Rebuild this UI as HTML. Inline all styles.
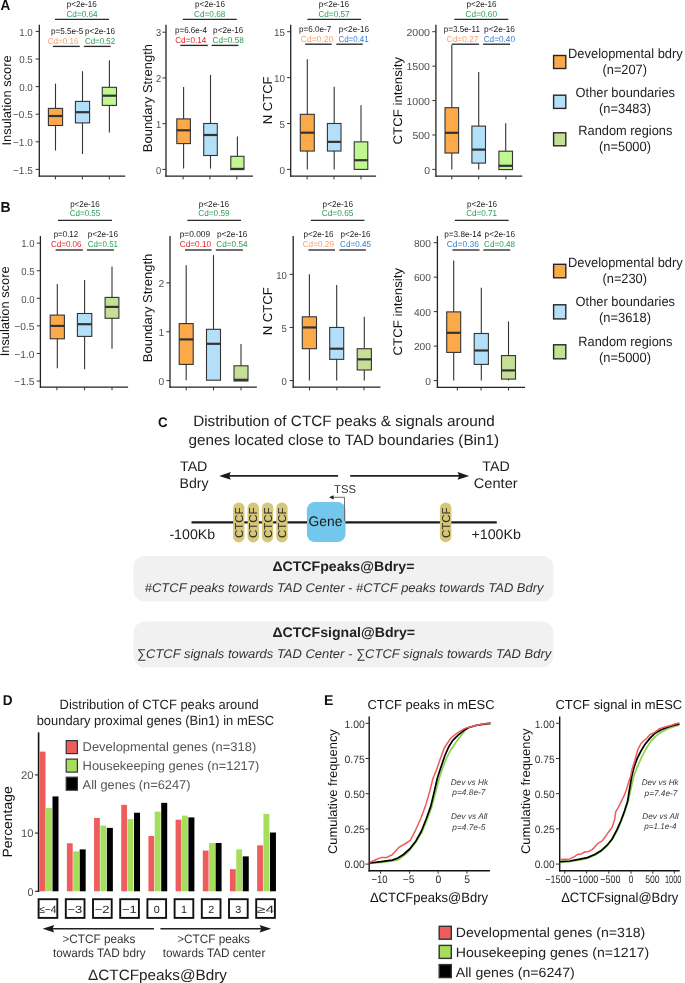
<!DOCTYPE html>
<html><head><meta charset="utf-8"><style>
html,body{margin:0;padding:0;background:#fff;width:685px;height:983px;overflow:hidden}
svg{display:block;will-change:transform}
text{font-family:"Liberation Sans", sans-serif;text-rendering:geometricPrecision}
</style></head><body>
<svg width="685" height="983" viewBox="0 0 685 983">

<text x="0.60" y="10.30" font-size="14.4" fill="#111" textLength="9.80" lengthAdjust="spacingAndGlyphs" font-weight="bold">A</text>
<text transform="translate(10.50,145.50) rotate(-90)" x="0" y="0" font-size="12.6" fill="#111" textLength="90.20" lengthAdjust="spacingAndGlyphs">Insulation score</text>
<line x1="39.30" y1="24.70" x2="39.30" y2="176.80" stroke="#222" stroke-width="1.3"/>
<line x1="38.70" y1="176.20" x2="125.20" y2="176.20" stroke="#222" stroke-width="1.3"/>
<line x1="35.70" y1="31.40" x2="39.30" y2="31.40" stroke="#333" stroke-width="1.0"/>
<text x="19.20" y="35.67" font-size="10.2" fill="#4D4D4D" textLength="13.60" lengthAdjust="spacingAndGlyphs">1.0</text>
<line x1="35.70" y1="59.00" x2="39.30" y2="59.00" stroke="#333" stroke-width="1.0"/>
<text x="19.20" y="63.27" font-size="10.2" fill="#4D4D4D" textLength="13.60" lengthAdjust="spacingAndGlyphs">0.5</text>
<line x1="35.70" y1="86.60" x2="39.30" y2="86.60" stroke="#333" stroke-width="1.0"/>
<text x="19.20" y="90.87" font-size="10.2" fill="#4D4D4D" textLength="13.60" lengthAdjust="spacingAndGlyphs">0.0</text>
<line x1="35.70" y1="114.20" x2="39.30" y2="114.20" stroke="#333" stroke-width="1.0"/>
<text x="13.00" y="118.47" font-size="10.2" fill="#4D4D4D" textLength="19.80" lengthAdjust="spacingAndGlyphs">−0.5</text>
<line x1="35.70" y1="141.80" x2="39.30" y2="141.80" stroke="#333" stroke-width="1.0"/>
<text x="13.00" y="146.07" font-size="10.2" fill="#4D4D4D" textLength="19.80" lengthAdjust="spacingAndGlyphs">−1.0</text>
<line x1="35.70" y1="169.40" x2="39.30" y2="169.40" stroke="#333" stroke-width="1.0"/>
<text x="13.00" y="173.67" font-size="10.2" fill="#4D4D4D" textLength="19.80" lengthAdjust="spacingAndGlyphs">−1.5</text>
<line x1="55.40" y1="176.20" x2="55.40" y2="179.40" stroke="#333" stroke-width="1.0"/>
<line x1="82.40" y1="176.20" x2="82.40" y2="179.40" stroke="#333" stroke-width="1.0"/>
<line x1="109.30" y1="176.20" x2="109.30" y2="179.40" stroke="#333" stroke-width="1.0"/>
<line x1="55.50" y1="83.60" x2="55.50" y2="108.40" stroke="#333" stroke-width="1.1"/>
<line x1="55.50" y1="125.50" x2="55.50" y2="150.60" stroke="#333" stroke-width="1.1"/>
<rect x="48.40" y="108.40" width="14.20" height="17.10" fill="#FCA94A" stroke="#333" stroke-width="1.1"/>
<line x1="48.40" y1="116.00" x2="62.60" y2="116.00" stroke="#333" stroke-width="2.2"/>
<line x1="82.50" y1="71.20" x2="82.50" y2="101.40" stroke="#333" stroke-width="1.1"/>
<line x1="82.50" y1="122.90" x2="82.50" y2="154.00" stroke="#333" stroke-width="1.1"/>
<rect x="75.40" y="101.40" width="14.20" height="21.50" fill="#B4DFF9" stroke="#333" stroke-width="1.1"/>
<line x1="75.40" y1="112.20" x2="89.60" y2="112.20" stroke="#333" stroke-width="2.2"/>
<line x1="109.40" y1="60.30" x2="109.40" y2="87.30" stroke="#333" stroke-width="1.1"/>
<line x1="109.40" y1="105.40" x2="109.40" y2="132.60" stroke="#333" stroke-width="1.1"/>
<rect x="102.30" y="87.30" width="14.20" height="18.10" fill="#C0F791" stroke="#333" stroke-width="1.1"/>
<line x1="102.30" y1="95.70" x2="116.50" y2="95.70" stroke="#333" stroke-width="2.2"/>
<text x="66.80" y="6.64" font-size="8.6" fill="#1a1a1a" textLength="30.00" lengthAdjust="spacingAndGlyphs">p&lt;2e-16</text>
<text x="66.40" y="16.54" font-size="8.6" fill="#2E9D58" textLength="31.30" lengthAdjust="spacingAndGlyphs">Cd=0.64</text>
<line x1="55.00" y1="19.40" x2="109.00" y2="19.40" stroke="#2a2a2a" stroke-width="1.35"/>
<text x="51.00" y="34.14" font-size="8.6" fill="#1a1a1a" textLength="32.30" lengthAdjust="spacingAndGlyphs">p=5.5e-5</text>
<text x="47.70" y="43.54" font-size="8.6" fill="#F7A072" textLength="30.70" lengthAdjust="spacingAndGlyphs">Cd=0.16</text>
<text x="85.00" y="34.14" font-size="8.6" fill="#1a1a1a" textLength="30.10" lengthAdjust="spacingAndGlyphs">p&lt;2e-16</text>
<text x="85.00" y="43.54" font-size="8.6" fill="#2E9D58" textLength="30.10" lengthAdjust="spacingAndGlyphs">Cd=0.52</text>
<line x1="52.90" y1="46.40" x2="79.80" y2="46.40" stroke="#2a2a2a" stroke-width="1.35"/>
<line x1="83.90" y1="46.40" x2="110.70" y2="46.40" stroke="#2a2a2a" stroke-width="1.35"/>
<text transform="translate(152.20,152.20) rotate(-90)" x="0" y="0" font-size="12.8" fill="#111" textLength="108.20" lengthAdjust="spacingAndGlyphs">Boundary Strength</text>
<line x1="166.00" y1="24.70" x2="166.00" y2="176.80" stroke="#222" stroke-width="1.3"/>
<line x1="165.40" y1="176.20" x2="253.00" y2="176.20" stroke="#222" stroke-width="1.3"/>
<line x1="162.40" y1="32.21" x2="166.00" y2="32.21" stroke="#333" stroke-width="1.0"/>
<text x="156.00" y="36.48" font-size="10.2" fill="#4D4D4D" textLength="5.20" lengthAdjust="spacingAndGlyphs">3</text>
<line x1="162.40" y1="77.94" x2="166.00" y2="77.94" stroke="#333" stroke-width="1.0"/>
<text x="156.00" y="82.21" font-size="10.2" fill="#4D4D4D" textLength="5.20" lengthAdjust="spacingAndGlyphs">2</text>
<line x1="162.40" y1="123.67" x2="166.00" y2="123.67" stroke="#333" stroke-width="1.0"/>
<text x="156.00" y="127.94" font-size="10.2" fill="#4D4D4D" textLength="5.20" lengthAdjust="spacingAndGlyphs">1</text>
<line x1="162.40" y1="169.40" x2="166.00" y2="169.40" stroke="#333" stroke-width="1.0"/>
<text x="156.00" y="173.67" font-size="10.2" fill="#4D4D4D" textLength="5.20" lengthAdjust="spacingAndGlyphs">0</text>
<line x1="183.10" y1="176.20" x2="183.10" y2="179.40" stroke="#333" stroke-width="1.0"/>
<line x1="209.90" y1="176.20" x2="209.90" y2="179.40" stroke="#333" stroke-width="1.0"/>
<line x1="236.80" y1="176.20" x2="236.80" y2="179.40" stroke="#333" stroke-width="1.0"/>
<line x1="183.60" y1="87.00" x2="183.60" y2="118.90" stroke="#333" stroke-width="1.1"/>
<line x1="183.60" y1="143.60" x2="183.60" y2="168.60" stroke="#333" stroke-width="1.1"/>
<rect x="176.80" y="118.90" width="13.60" height="24.70" fill="#FCA94A" stroke="#333" stroke-width="1.1"/>
<line x1="176.80" y1="130.30" x2="190.40" y2="130.30" stroke="#333" stroke-width="2.2"/>
<line x1="210.50" y1="75.00" x2="210.50" y2="123.50" stroke="#333" stroke-width="1.1"/>
<line x1="210.50" y1="155.50" x2="210.50" y2="168.60" stroke="#333" stroke-width="1.1"/>
<rect x="203.70" y="123.50" width="13.60" height="32.00" fill="#B4DFF9" stroke="#333" stroke-width="1.1"/>
<line x1="203.70" y1="135.00" x2="217.30" y2="135.00" stroke="#333" stroke-width="2.2"/>
<line x1="237.40" y1="136.50" x2="237.40" y2="156.30" stroke="#333" stroke-width="1.1"/>
<line x1="237.40" y1="169.60" x2="237.40" y2="169.60" stroke="#333" stroke-width="1.1"/>
<rect x="230.80" y="156.30" width="13.20" height="13.30" fill="#C0F791" stroke="#333" stroke-width="1.1"/>
<line x1="230.80" y1="168.90" x2="244.00" y2="168.90" stroke="#333" stroke-width="2.2"/>
<text x="194.90" y="6.64" font-size="8.6" fill="#1a1a1a" textLength="30.00" lengthAdjust="spacingAndGlyphs">p&lt;2e-16</text>
<text x="194.10" y="16.54" font-size="8.6" fill="#2E9D58" textLength="31.20" lengthAdjust="spacingAndGlyphs">Cd=0.68</text>
<line x1="182.80" y1="19.40" x2="236.80" y2="19.40" stroke="#2a2a2a" stroke-width="1.35"/>
<text x="175.00" y="33.24" font-size="8.6" fill="#1a1a1a" textLength="31.90" lengthAdjust="spacingAndGlyphs">p=6.6e-4</text>
<text x="175.20" y="43.04" font-size="8.6" fill="#E8262B" textLength="31.10" lengthAdjust="spacingAndGlyphs">Cd=0.14</text>
<text x="213.10" y="33.24" font-size="8.6" fill="#1a1a1a" textLength="30.20" lengthAdjust="spacingAndGlyphs">p&lt;2e-16</text>
<text x="212.50" y="43.04" font-size="8.6" fill="#2E9D58" textLength="31.40" lengthAdjust="spacingAndGlyphs">Cd=0.58</text>
<line x1="180.30" y1="45.40" x2="207.80" y2="45.40" stroke="#2a2a2a" stroke-width="1.35"/>
<line x1="211.60" y1="45.40" x2="238.50" y2="45.40" stroke="#2a2a2a" stroke-width="1.35"/>
<text transform="translate(271.80,124.30) rotate(-90)" x="0" y="0" font-size="12.9" fill="#111" textLength="47.90" lengthAdjust="spacingAndGlyphs">N CTCF</text>
<line x1="290.70" y1="24.70" x2="290.70" y2="176.80" stroke="#222" stroke-width="1.3"/>
<line x1="290.10" y1="176.20" x2="376.10" y2="176.20" stroke="#222" stroke-width="1.3"/>
<line x1="287.10" y1="31.70" x2="290.70" y2="31.70" stroke="#333" stroke-width="1.0"/>
<text x="274.00" y="35.97" font-size="10.2" fill="#4D4D4D" textLength="11.00" lengthAdjust="spacingAndGlyphs">15</text>
<line x1="287.10" y1="77.60" x2="290.70" y2="77.60" stroke="#333" stroke-width="1.0"/>
<text x="274.00" y="81.87" font-size="10.2" fill="#4D4D4D" textLength="11.00" lengthAdjust="spacingAndGlyphs">10</text>
<line x1="287.10" y1="123.50" x2="290.70" y2="123.50" stroke="#333" stroke-width="1.0"/>
<text x="279.50" y="127.77" font-size="10.2" fill="#4D4D4D" textLength="5.50" lengthAdjust="spacingAndGlyphs">5</text>
<line x1="287.10" y1="169.40" x2="290.70" y2="169.40" stroke="#333" stroke-width="1.0"/>
<text x="279.50" y="173.67" font-size="10.2" fill="#4D4D4D" textLength="5.50" lengthAdjust="spacingAndGlyphs">0</text>
<line x1="307.10" y1="176.20" x2="307.10" y2="179.40" stroke="#333" stroke-width="1.0"/>
<line x1="334.00" y1="176.20" x2="334.00" y2="179.40" stroke="#333" stroke-width="1.0"/>
<line x1="361.00" y1="176.20" x2="361.00" y2="179.40" stroke="#333" stroke-width="1.0"/>
<line x1="307.30" y1="59.24" x2="307.30" y2="114.32" stroke="#333" stroke-width="1.1"/>
<line x1="307.30" y1="151.04" x2="307.30" y2="169.40" stroke="#333" stroke-width="1.1"/>
<rect x="300.30" y="114.32" width="14.00" height="36.72" fill="#FCA94A" stroke="#333" stroke-width="1.1"/>
<line x1="300.30" y1="132.68" x2="314.30" y2="132.68" stroke="#333" stroke-width="2.2"/>
<line x1="334.20" y1="86.78" x2="334.20" y2="123.50" stroke="#333" stroke-width="1.1"/>
<line x1="334.20" y1="151.04" x2="334.20" y2="169.40" stroke="#333" stroke-width="1.1"/>
<rect x="327.40" y="123.50" width="13.60" height="27.54" fill="#B4DFF9" stroke="#333" stroke-width="1.1"/>
<line x1="327.40" y1="141.86" x2="341.00" y2="141.86" stroke="#333" stroke-width="2.2"/>
<line x1="361.00" y1="105.14" x2="361.00" y2="141.86" stroke="#333" stroke-width="1.1"/>
<line x1="361.00" y1="169.40" x2="361.00" y2="169.40" stroke="#333" stroke-width="1.1"/>
<rect x="354.20" y="141.86" width="13.60" height="27.54" fill="#C0F791" stroke="#333" stroke-width="1.1"/>
<line x1="354.20" y1="160.22" x2="367.80" y2="160.22" stroke="#333" stroke-width="2.2"/>
<text x="318.80" y="6.64" font-size="8.6" fill="#1a1a1a" textLength="30.40" lengthAdjust="spacingAndGlyphs">p&lt;2e-16</text>
<text x="318.40" y="16.54" font-size="8.6" fill="#2E9D58" textLength="31.20" lengthAdjust="spacingAndGlyphs">Cd=0.57</text>
<line x1="307.40" y1="19.40" x2="361.00" y2="19.40" stroke="#2a2a2a" stroke-width="1.35"/>
<text x="298.90" y="31.64" font-size="8.6" fill="#1a1a1a" textLength="32.30" lengthAdjust="spacingAndGlyphs">p=6.0e-7</text>
<text x="300.80" y="41.74" font-size="8.6" fill="#F7A072" textLength="32.30" lengthAdjust="spacingAndGlyphs">Cd=0.20</text>
<text x="338.70" y="31.64" font-size="8.6" fill="#1a1a1a" textLength="30.40" lengthAdjust="spacingAndGlyphs">p&lt;2e-16</text>
<text x="338.40" y="41.74" font-size="8.6" fill="#3B7DD2" textLength="30.30" lengthAdjust="spacingAndGlyphs">Cd=0.41</text>
<line x1="305.20" y1="44.20" x2="331.70" y2="44.20" stroke="#2a2a2a" stroke-width="1.35"/>
<line x1="336.30" y1="44.20" x2="362.80" y2="44.20" stroke="#2a2a2a" stroke-width="1.35"/>
<text transform="translate(401.50,144.50) rotate(-90)" x="0" y="0" font-size="12.5" fill="#111" textLength="87.50" lengthAdjust="spacingAndGlyphs">CTCF intensity</text>
<line x1="435.90" y1="24.70" x2="435.90" y2="176.80" stroke="#222" stroke-width="1.3"/>
<line x1="435.30" y1="176.20" x2="522.30" y2="176.20" stroke="#222" stroke-width="1.3"/>
<line x1="432.30" y1="31.70" x2="435.90" y2="31.70" stroke="#333" stroke-width="1.0"/>
<text x="406.50" y="35.97" font-size="10.2" fill="#4D4D4D" textLength="23.50" lengthAdjust="spacingAndGlyphs">2000</text>
<line x1="432.30" y1="66.13" x2="435.90" y2="66.13" stroke="#333" stroke-width="1.0"/>
<text x="406.50" y="70.40" font-size="10.2" fill="#4D4D4D" textLength="23.50" lengthAdjust="spacingAndGlyphs">1500</text>
<line x1="432.30" y1="100.55" x2="435.90" y2="100.55" stroke="#333" stroke-width="1.0"/>
<text x="406.50" y="104.82" font-size="10.2" fill="#4D4D4D" textLength="23.50" lengthAdjust="spacingAndGlyphs">1000</text>
<line x1="432.30" y1="134.98" x2="435.90" y2="134.98" stroke="#333" stroke-width="1.0"/>
<text x="412.40" y="139.25" font-size="10.2" fill="#4D4D4D" textLength="17.60" lengthAdjust="spacingAndGlyphs">500</text>
<line x1="432.30" y1="169.40" x2="435.90" y2="169.40" stroke="#333" stroke-width="1.0"/>
<text x="424.20" y="173.67" font-size="10.2" fill="#4D4D4D" textLength="5.80" lengthAdjust="spacingAndGlyphs">0</text>
<line x1="451.80" y1="176.20" x2="451.80" y2="179.40" stroke="#333" stroke-width="1.0"/>
<line x1="478.70" y1="176.20" x2="478.70" y2="179.40" stroke="#333" stroke-width="1.0"/>
<line x1="505.90" y1="176.20" x2="505.90" y2="179.40" stroke="#333" stroke-width="1.0"/>
<line x1="451.80" y1="45.00" x2="451.80" y2="107.70" stroke="#333" stroke-width="1.1"/>
<line x1="451.80" y1="153.00" x2="451.80" y2="169.40" stroke="#333" stroke-width="1.1"/>
<rect x="445.00" y="107.70" width="13.60" height="45.30" fill="#FCA94A" stroke="#333" stroke-width="1.1"/>
<line x1="445.00" y1="132.80" x2="458.60" y2="132.80" stroke="#333" stroke-width="2.2"/>
<line x1="478.70" y1="72.10" x2="478.70" y2="126.10" stroke="#333" stroke-width="1.1"/>
<line x1="478.70" y1="163.10" x2="478.70" y2="169.40" stroke="#333" stroke-width="1.1"/>
<rect x="471.90" y="126.10" width="13.60" height="37.00" fill="#B4DFF9" stroke="#333" stroke-width="1.1"/>
<line x1="471.90" y1="149.60" x2="485.50" y2="149.60" stroke="#333" stroke-width="2.2"/>
<line x1="505.70" y1="123.30" x2="505.70" y2="151.20" stroke="#333" stroke-width="1.1"/>
<line x1="505.70" y1="169.60" x2="505.70" y2="169.60" stroke="#333" stroke-width="1.1"/>
<rect x="498.90" y="151.20" width="13.60" height="18.40" fill="#C0F791" stroke="#333" stroke-width="1.1"/>
<line x1="498.90" y1="165.80" x2="512.50" y2="165.80" stroke="#333" stroke-width="2.2"/>
<text x="466.60" y="6.64" font-size="8.6" fill="#1a1a1a" textLength="30.00" lengthAdjust="spacingAndGlyphs">p&lt;2e-16</text>
<text x="465.60" y="16.54" font-size="8.6" fill="#2E9D58" textLength="31.40" lengthAdjust="spacingAndGlyphs">Cd=0.60</text>
<line x1="454.30" y1="19.40" x2="508.30" y2="19.40" stroke="#2a2a2a" stroke-width="1.35"/>
<text x="443.80" y="31.64" font-size="8.6" fill="#1a1a1a" textLength="36.10" lengthAdjust="spacingAndGlyphs">p=3.5e-11</text>
<text x="446.70" y="41.74" font-size="8.6" fill="#F7A072" textLength="31.70" lengthAdjust="spacingAndGlyphs">Cd=0.27</text>
<text x="484.00" y="31.64" font-size="8.6" fill="#1a1a1a" textLength="31.00" lengthAdjust="spacingAndGlyphs">p&lt;2e-16</text>
<text x="483.70" y="41.74" font-size="8.6" fill="#3B7DD2" textLength="31.30" lengthAdjust="spacingAndGlyphs">Cd=0.40</text>
<line x1="451.80" y1="44.20" x2="478.90" y2="44.20" stroke="#2a2a2a" stroke-width="1.35"/>
<line x1="483.10" y1="44.20" x2="509.90" y2="44.20" stroke="#2a2a2a" stroke-width="1.35"/>
<rect x="553.60" y="55.50" width="12.20" height="13.00" fill="#FCA94A" stroke="#262626" stroke-width="1.4"/>
<text x="568.00" y="57.74" font-size="13.4" fill="#1e1e1e" textLength="114.80" lengthAdjust="spacingAndGlyphs">Developmental bdry</text>
<text x="602.50" y="73.94" font-size="13.4" fill="#1e1e1e" textLength="44.50" lengthAdjust="spacingAndGlyphs">(n=207)</text>
<rect x="553.60" y="95.20" width="12.20" height="13.20" fill="#B4DFF9" stroke="#262626" stroke-width="1.4"/>
<text x="575.60" y="96.84" font-size="13.4" fill="#1e1e1e" textLength="99.40" lengthAdjust="spacingAndGlyphs">Other boundaries</text>
<text x="599.00" y="112.84" font-size="13.4" fill="#1e1e1e" textLength="52.00" lengthAdjust="spacingAndGlyphs">(n=3483)</text>
<rect x="553.60" y="132.80" width="12.20" height="13.00" fill="#C6DF97" stroke="#262626" stroke-width="1.4"/>
<text x="578.30" y="135.24" font-size="13.4" fill="#1e1e1e" textLength="94.00" lengthAdjust="spacingAndGlyphs">Random regions</text>
<text x="599.00" y="151.44" font-size="13.4" fill="#1e1e1e" textLength="52.00" lengthAdjust="spacingAndGlyphs">(n=5000)</text>
<text x="0.40" y="211.50" font-size="14.4" fill="#111" textLength="10.10" lengthAdjust="spacingAndGlyphs" font-weight="bold">B</text>
<text transform="translate(9.00,356.30) rotate(-90)" x="0" y="0" font-size="12.6" fill="#111" textLength="89.90" lengthAdjust="spacingAndGlyphs">Insulation score</text>
<line x1="40.40" y1="236.10" x2="40.40" y2="387.70" stroke="#222" stroke-width="1.3"/>
<line x1="39.80" y1="387.10" x2="128.10" y2="387.10" stroke="#222" stroke-width="1.3"/>
<line x1="36.80" y1="243.14" x2="40.40" y2="243.14" stroke="#333" stroke-width="1.0"/>
<text x="21.20" y="247.41" font-size="10.2" fill="#4D4D4D" textLength="13.30" lengthAdjust="spacingAndGlyphs">1.0</text>
<line x1="36.80" y1="270.72" x2="40.40" y2="270.72" stroke="#333" stroke-width="1.0"/>
<text x="21.20" y="274.99" font-size="10.2" fill="#4D4D4D" textLength="13.30" lengthAdjust="spacingAndGlyphs">0.5</text>
<line x1="36.80" y1="298.30" x2="40.40" y2="298.30" stroke="#333" stroke-width="1.0"/>
<text x="21.20" y="302.57" font-size="10.2" fill="#4D4D4D" textLength="13.30" lengthAdjust="spacingAndGlyphs">0.0</text>
<line x1="36.80" y1="325.88" x2="40.40" y2="325.88" stroke="#333" stroke-width="1.0"/>
<text x="14.30" y="330.15" font-size="10.2" fill="#4D4D4D" textLength="20.20" lengthAdjust="spacingAndGlyphs">−0.5</text>
<line x1="36.80" y1="353.46" x2="40.40" y2="353.46" stroke="#333" stroke-width="1.0"/>
<text x="14.30" y="357.73" font-size="10.2" fill="#4D4D4D" textLength="20.20" lengthAdjust="spacingAndGlyphs">−1.0</text>
<line x1="36.80" y1="381.04" x2="40.40" y2="381.04" stroke="#333" stroke-width="1.0"/>
<text x="14.30" y="385.31" font-size="10.2" fill="#4D4D4D" textLength="20.20" lengthAdjust="spacingAndGlyphs">−1.5</text>
<line x1="56.90" y1="387.10" x2="56.90" y2="390.30" stroke="#333" stroke-width="1.0"/>
<line x1="84.60" y1="387.10" x2="84.60" y2="390.30" stroke="#333" stroke-width="1.0"/>
<line x1="112.00" y1="387.10" x2="112.00" y2="390.30" stroke="#333" stroke-width="1.0"/>
<line x1="57.30" y1="284.00" x2="57.30" y2="315.10" stroke="#333" stroke-width="1.1"/>
<line x1="57.30" y1="338.80" x2="57.30" y2="368.20" stroke="#333" stroke-width="1.1"/>
<rect x="50.20" y="315.10" width="14.20" height="23.70" fill="#FCA94A" stroke="#333" stroke-width="1.1"/>
<line x1="50.20" y1="325.90" x2="64.40" y2="325.90" stroke="#333" stroke-width="2.2"/>
<line x1="84.60" y1="280.10" x2="84.60" y2="313.50" stroke="#333" stroke-width="1.1"/>
<line x1="84.60" y1="336.40" x2="84.60" y2="369.20" stroke="#333" stroke-width="1.1"/>
<rect x="77.40" y="313.50" width="14.40" height="22.90" fill="#B4DFF9" stroke="#333" stroke-width="1.1"/>
<line x1="77.40" y1="324.20" x2="91.80" y2="324.20" stroke="#333" stroke-width="2.2"/>
<line x1="112.00" y1="266.50" x2="112.00" y2="297.40" stroke="#333" stroke-width="1.1"/>
<line x1="112.00" y1="318.30" x2="112.00" y2="348.70" stroke="#333" stroke-width="1.1"/>
<rect x="105.10" y="297.40" width="13.80" height="20.90" fill="#C6DF97" stroke="#333" stroke-width="1.1"/>
<line x1="105.10" y1="306.90" x2="118.90" y2="306.90" stroke="#333" stroke-width="2.2"/>
<text x="70.20" y="206.54" font-size="8.6" fill="#1a1a1a" textLength="29.40" lengthAdjust="spacingAndGlyphs">p&lt;2e-16</text>
<text x="69.80" y="216.14" font-size="8.6" fill="#2E9D58" textLength="30.40" lengthAdjust="spacingAndGlyphs">Cd=0.55</text>
<line x1="57.90" y1="220.40" x2="112.00" y2="220.40" stroke="#2a2a2a" stroke-width="1.35"/>
<text x="53.70" y="237.44" font-size="8.6" fill="#1a1a1a" textLength="24.50" lengthAdjust="spacingAndGlyphs">p=0.12</text>
<text x="50.90" y="247.44" font-size="8.6" fill="#E8262B" textLength="30.70" lengthAdjust="spacingAndGlyphs">Cd=0.06</text>
<text x="87.70" y="237.44" font-size="8.6" fill="#1a1a1a" textLength="30.30" lengthAdjust="spacingAndGlyphs">p&lt;2e-16</text>
<text x="87.70" y="247.44" font-size="8.6" fill="#2E9D58" textLength="30.30" lengthAdjust="spacingAndGlyphs">Cd=0.51</text>
<line x1="55.60" y1="250.00" x2="82.90" y2="250.00" stroke="#2a2a2a" stroke-width="1.35"/>
<line x1="86.90" y1="250.00" x2="113.90" y2="250.00" stroke="#2a2a2a" stroke-width="1.35"/>
<text transform="translate(152.20,362.20) rotate(-90)" x="0" y="0" font-size="12.8" fill="#111" textLength="108.50" lengthAdjust="spacingAndGlyphs">Boundary Strength</text>
<line x1="170.00" y1="236.10" x2="170.00" y2="387.80" stroke="#222" stroke-width="1.3"/>
<line x1="169.40" y1="387.20" x2="256.80" y2="387.20" stroke="#222" stroke-width="1.3"/>
<line x1="166.40" y1="282.90" x2="170.00" y2="282.90" stroke="#333" stroke-width="1.0"/>
<text x="158.40" y="287.17" font-size="10.2" fill="#4D4D4D" textLength="5.70" lengthAdjust="spacingAndGlyphs">2</text>
<line x1="166.40" y1="331.75" x2="170.00" y2="331.75" stroke="#333" stroke-width="1.0"/>
<text x="158.40" y="336.02" font-size="10.2" fill="#4D4D4D" textLength="5.70" lengthAdjust="spacingAndGlyphs">1</text>
<line x1="166.40" y1="380.60" x2="170.00" y2="380.60" stroke="#333" stroke-width="1.0"/>
<text x="158.40" y="384.87" font-size="10.2" fill="#4D4D4D" textLength="5.70" lengthAdjust="spacingAndGlyphs">0</text>
<line x1="186.20" y1="387.20" x2="186.20" y2="390.40" stroke="#333" stroke-width="1.0"/>
<line x1="213.50" y1="387.20" x2="213.50" y2="390.40" stroke="#333" stroke-width="1.0"/>
<line x1="241.00" y1="387.20" x2="241.00" y2="390.40" stroke="#333" stroke-width="1.0"/>
<line x1="186.20" y1="265.30" x2="186.20" y2="323.60" stroke="#333" stroke-width="1.1"/>
<line x1="186.20" y1="364.40" x2="186.20" y2="380.20" stroke="#333" stroke-width="1.1"/>
<rect x="179.20" y="323.60" width="14.00" height="40.80" fill="#FCA94A" stroke="#333" stroke-width="1.1"/>
<line x1="179.20" y1="339.40" x2="193.20" y2="339.40" stroke="#333" stroke-width="2.2"/>
<line x1="213.50" y1="255.10" x2="213.50" y2="329.30" stroke="#333" stroke-width="1.1"/>
<line x1="213.50" y1="380.20" x2="213.50" y2="380.20" stroke="#333" stroke-width="1.1"/>
<rect x="206.50" y="329.30" width="14.00" height="50.90" fill="#B4DFF9" stroke="#333" stroke-width="1.1"/>
<line x1="206.50" y1="343.80" x2="220.50" y2="343.80" stroke="#333" stroke-width="2.2"/>
<line x1="241.00" y1="344.10" x2="241.00" y2="365.80" stroke="#333" stroke-width="1.1"/>
<line x1="241.00" y1="381.00" x2="241.00" y2="381.00" stroke="#333" stroke-width="1.1"/>
<rect x="234.00" y="365.80" width="14.00" height="15.20" fill="#C6DF97" stroke="#333" stroke-width="1.1"/>
<line x1="234.00" y1="379.80" x2="248.00" y2="379.80" stroke="#333" stroke-width="2.2"/>
<text x="198.70" y="206.54" font-size="8.6" fill="#1a1a1a" textLength="30.40" lengthAdjust="spacingAndGlyphs">p&lt;2e-16</text>
<text x="198.30" y="216.14" font-size="8.6" fill="#2E9D58" textLength="31.30" lengthAdjust="spacingAndGlyphs">Cd=0.59</text>
<line x1="187.30" y1="220.40" x2="241.00" y2="220.40" stroke="#2a2a2a" stroke-width="1.35"/>
<text x="179.70" y="237.44" font-size="8.6" fill="#1a1a1a" textLength="30.40" lengthAdjust="spacingAndGlyphs">p=0.009</text>
<text x="179.70" y="247.44" font-size="8.6" fill="#E8262B" textLength="31.50" lengthAdjust="spacingAndGlyphs">Cd=0.10</text>
<text x="216.90" y="237.44" font-size="8.6" fill="#1a1a1a" textLength="30.40" lengthAdjust="spacingAndGlyphs">p&lt;2e-16</text>
<text x="216.30" y="247.44" font-size="8.6" fill="#2E9D58" textLength="31.30" lengthAdjust="spacingAndGlyphs">Cd=0.54</text>
<line x1="185.00" y1="250.00" x2="211.60" y2="250.00" stroke="#2a2a2a" stroke-width="1.35"/>
<line x1="215.80" y1="250.00" x2="242.90" y2="250.00" stroke="#2a2a2a" stroke-width="1.35"/>
<text transform="translate(271.80,335.30) rotate(-90)" x="0" y="0" font-size="12.9" fill="#111" textLength="48.10" lengthAdjust="spacingAndGlyphs">N CTCF</text>
<line x1="293.20" y1="236.10" x2="293.20" y2="387.80" stroke="#222" stroke-width="1.3"/>
<line x1="292.60" y1="387.20" x2="380.50" y2="387.20" stroke="#222" stroke-width="1.3"/>
<line x1="289.60" y1="274.30" x2="293.20" y2="274.30" stroke="#333" stroke-width="1.0"/>
<text x="276.20" y="278.57" font-size="10.2" fill="#4D4D4D" textLength="10.60" lengthAdjust="spacingAndGlyphs">10</text>
<line x1="289.60" y1="327.45" x2="293.20" y2="327.45" stroke="#333" stroke-width="1.0"/>
<text x="281.50" y="331.72" font-size="10.2" fill="#4D4D4D" textLength="5.30" lengthAdjust="spacingAndGlyphs">5</text>
<line x1="289.60" y1="380.60" x2="293.20" y2="380.60" stroke="#333" stroke-width="1.0"/>
<text x="281.50" y="384.87" font-size="10.2" fill="#4D4D4D" textLength="5.30" lengthAdjust="spacingAndGlyphs">0</text>
<line x1="309.50" y1="387.20" x2="309.50" y2="390.40" stroke="#333" stroke-width="1.0"/>
<line x1="336.90" y1="387.20" x2="336.90" y2="390.40" stroke="#333" stroke-width="1.0"/>
<line x1="364.00" y1="387.20" x2="364.00" y2="390.40" stroke="#333" stroke-width="1.0"/>
<line x1="309.40" y1="274.30" x2="309.40" y2="316.82" stroke="#333" stroke-width="1.1"/>
<line x1="309.40" y1="348.71" x2="309.40" y2="380.60" stroke="#333" stroke-width="1.1"/>
<rect x="302.30" y="316.82" width="14.20" height="31.89" fill="#FCA94A" stroke="#333" stroke-width="1.1"/>
<line x1="302.30" y1="327.45" x2="316.50" y2="327.45" stroke="#333" stroke-width="2.2"/>
<line x1="336.70" y1="284.93" x2="336.70" y2="327.45" stroke="#333" stroke-width="1.1"/>
<line x1="336.70" y1="359.34" x2="336.70" y2="380.60" stroke="#333" stroke-width="1.1"/>
<rect x="329.70" y="327.45" width="14.00" height="31.89" fill="#B4DFF9" stroke="#333" stroke-width="1.1"/>
<line x1="329.70" y1="348.71" x2="343.70" y2="348.71" stroke="#333" stroke-width="2.2"/>
<line x1="364.30" y1="316.82" x2="364.30" y2="348.71" stroke="#333" stroke-width="1.1"/>
<line x1="364.30" y1="369.97" x2="364.30" y2="380.60" stroke="#333" stroke-width="1.1"/>
<rect x="357.20" y="348.71" width="14.20" height="21.26" fill="#C6DF97" stroke="#333" stroke-width="1.1"/>
<line x1="357.20" y1="359.34" x2="371.40" y2="359.34" stroke="#333" stroke-width="2.2"/>
<text x="322.60" y="206.54" font-size="8.6" fill="#1a1a1a" textLength="30.40" lengthAdjust="spacingAndGlyphs">p&lt;2e-16</text>
<text x="321.70" y="216.14" font-size="8.6" fill="#2E9D58" textLength="31.70" lengthAdjust="spacingAndGlyphs">Cd=0.65</text>
<line x1="310.90" y1="220.40" x2="364.40" y2="220.40" stroke="#2a2a2a" stroke-width="1.35"/>
<text x="303.60" y="237.44" font-size="8.6" fill="#1a1a1a" textLength="30.00" lengthAdjust="spacingAndGlyphs">p&lt;2e-16</text>
<text x="302.70" y="247.44" font-size="8.6" fill="#F7A072" textLength="31.30" lengthAdjust="spacingAndGlyphs">Cd=0.29</text>
<text x="340.60" y="237.44" font-size="8.6" fill="#1a1a1a" textLength="30.00" lengthAdjust="spacingAndGlyphs">p&lt;2e-16</text>
<text x="340.10" y="247.44" font-size="8.6" fill="#3B7DD2" textLength="30.90" lengthAdjust="spacingAndGlyphs">Cd=0.45</text>
<line x1="308.40" y1="250.00" x2="335.00" y2="250.00" stroke="#2a2a2a" stroke-width="1.35"/>
<line x1="339.30" y1="250.00" x2="365.90" y2="250.00" stroke="#2a2a2a" stroke-width="1.35"/>
<text transform="translate(401.50,355.50) rotate(-90)" x="0" y="0" font-size="12.5" fill="#111" textLength="87.50" lengthAdjust="spacingAndGlyphs">CTCF intensity</text>
<line x1="437.40" y1="236.10" x2="437.40" y2="387.90" stroke="#222" stroke-width="1.3"/>
<line x1="436.80" y1="387.30" x2="525.00" y2="387.30" stroke="#222" stroke-width="1.3"/>
<line x1="433.80" y1="242.68" x2="437.40" y2="242.68" stroke="#333" stroke-width="1.0"/>
<text x="413.90" y="246.95" font-size="10.2" fill="#4D4D4D" textLength="17.10" lengthAdjust="spacingAndGlyphs">800</text>
<line x1="433.80" y1="277.16" x2="437.40" y2="277.16" stroke="#333" stroke-width="1.0"/>
<text x="413.90" y="281.43" font-size="10.2" fill="#4D4D4D" textLength="17.10" lengthAdjust="spacingAndGlyphs">600</text>
<line x1="433.80" y1="311.64" x2="437.40" y2="311.64" stroke="#333" stroke-width="1.0"/>
<text x="413.90" y="315.91" font-size="10.2" fill="#4D4D4D" textLength="17.10" lengthAdjust="spacingAndGlyphs">400</text>
<line x1="433.80" y1="346.12" x2="437.40" y2="346.12" stroke="#333" stroke-width="1.0"/>
<text x="413.90" y="350.39" font-size="10.2" fill="#4D4D4D" textLength="17.10" lengthAdjust="spacingAndGlyphs">200</text>
<line x1="433.80" y1="380.60" x2="437.40" y2="380.60" stroke="#333" stroke-width="1.0"/>
<text x="425.30" y="384.87" font-size="10.2" fill="#4D4D4D" textLength="5.70" lengthAdjust="spacingAndGlyphs">0</text>
<line x1="457.30" y1="387.30" x2="457.30" y2="390.50" stroke="#333" stroke-width="1.0"/>
<line x1="481.10" y1="387.30" x2="481.10" y2="390.50" stroke="#333" stroke-width="1.0"/>
<line x1="508.50" y1="387.30" x2="508.50" y2="390.50" stroke="#333" stroke-width="1.0"/>
<line x1="453.70" y1="260.60" x2="453.70" y2="311.90" stroke="#333" stroke-width="1.1"/>
<line x1="453.70" y1="352.40" x2="453.70" y2="380.50" stroke="#333" stroke-width="1.1"/>
<rect x="446.70" y="311.90" width="14.00" height="40.50" fill="#FCA94A" stroke="#333" stroke-width="1.1"/>
<line x1="446.70" y1="332.80" x2="460.70" y2="332.80" stroke="#333" stroke-width="2.2"/>
<line x1="481.30" y1="287.70" x2="481.30" y2="333.50" stroke="#333" stroke-width="1.1"/>
<line x1="481.30" y1="364.40" x2="481.30" y2="380.50" stroke="#333" stroke-width="1.1"/>
<rect x="474.20" y="333.50" width="14.20" height="30.90" fill="#B4DFF9" stroke="#333" stroke-width="1.1"/>
<line x1="474.20" y1="350.50" x2="488.40" y2="350.50" stroke="#333" stroke-width="2.2"/>
<line x1="508.50" y1="321.40" x2="508.50" y2="355.60" stroke="#333" stroke-width="1.1"/>
<line x1="508.50" y1="379.10" x2="508.50" y2="380.50" stroke="#333" stroke-width="1.1"/>
<rect x="501.50" y="355.60" width="14.00" height="23.50" fill="#C6DF97" stroke="#333" stroke-width="1.1"/>
<line x1="501.50" y1="370.40" x2="515.50" y2="370.40" stroke="#333" stroke-width="2.2"/>
<text x="467.00" y="206.54" font-size="8.6" fill="#1a1a1a" textLength="30.00" lengthAdjust="spacingAndGlyphs">p&lt;2e-16</text>
<text x="466.20" y="216.14" font-size="8.6" fill="#2E9D58" textLength="30.80" lengthAdjust="spacingAndGlyphs">Cd=0.71</text>
<line x1="454.80" y1="220.40" x2="508.70" y2="220.40" stroke="#2a2a2a" stroke-width="1.35"/>
<text x="444.20" y="237.44" font-size="8.6" fill="#1a1a1a" textLength="37.20" lengthAdjust="spacingAndGlyphs">p=3.8e-14</text>
<text x="446.70" y="247.44" font-size="8.6" fill="#3B7DD2" textLength="32.20" lengthAdjust="spacingAndGlyphs">Cd=0.36</text>
<text x="484.60" y="237.44" font-size="8.6" fill="#1a1a1a" textLength="30.40" lengthAdjust="spacingAndGlyphs">p&lt;2e-16</text>
<text x="484.00" y="247.44" font-size="8.6" fill="#2E9D58" textLength="31.00" lengthAdjust="spacingAndGlyphs">Cd=0.48</text>
<line x1="452.40" y1="250.00" x2="479.50" y2="250.00" stroke="#2a2a2a" stroke-width="1.35"/>
<line x1="483.30" y1="250.00" x2="510.20" y2="250.00" stroke="#2a2a2a" stroke-width="1.35"/>
<rect x="553.60" y="264.30" width="12.20" height="13.50" fill="#FCA94A" stroke="#262626" stroke-width="1.4"/>
<text x="568.00" y="266.94" font-size="13.4" fill="#1e1e1e" textLength="114.80" lengthAdjust="spacingAndGlyphs">Developmental bdry</text>
<text x="602.50" y="283.14" font-size="13.4" fill="#1e1e1e" textLength="44.50" lengthAdjust="spacingAndGlyphs">(n=230)</text>
<rect x="553.60" y="304.80" width="12.20" height="14.10" fill="#B4DFF9" stroke="#262626" stroke-width="1.4"/>
<text x="575.60" y="306.04" font-size="13.4" fill="#1e1e1e" textLength="99.40" lengthAdjust="spacingAndGlyphs">Other boundaries</text>
<text x="599.00" y="322.24" font-size="13.4" fill="#1e1e1e" textLength="52.00" lengthAdjust="spacingAndGlyphs">(n=3618)</text>
<rect x="553.60" y="344.80" width="12.20" height="14.00" fill="#C6DF97" stroke="#262626" stroke-width="1.4"/>
<text x="578.30" y="346.04" font-size="13.4" fill="#1e1e1e" textLength="94.00" lengthAdjust="spacingAndGlyphs">Random regions</text>
<text x="599.00" y="362.24" font-size="13.4" fill="#1e1e1e" textLength="52.00" lengthAdjust="spacingAndGlyphs">(n=5000)</text>
<text x="158.00" y="426.50" font-size="14.0" fill="#111" textLength="9.60" lengthAdjust="spacingAndGlyphs" font-weight="bold">C</text>
<text x="193.20" y="426.40" font-size="15.0" fill="#222" textLength="301.50" lengthAdjust="spacingAndGlyphs">Distribution of CTCF peaks &amp; signals around</text>
<text x="188.50" y="444.80" font-size="15.0" fill="#222" textLength="310.60" lengthAdjust="spacingAndGlyphs">genes located close to TAD boundaries (Bin1)</text>
<text x="180.00" y="471.00" font-size="14.0" fill="#1e1e1e" textLength="27.40" lengthAdjust="spacingAndGlyphs">TAD</text>
<text x="179.60" y="488.00" font-size="14.0" fill="#1e1e1e" textLength="29.00" lengthAdjust="spacingAndGlyphs">Bdry</text>
<text x="482.30" y="471.00" font-size="14.0" fill="#1e1e1e" textLength="27.40" lengthAdjust="spacingAndGlyphs">TAD</text>
<text x="473.80" y="488.00" font-size="14.0" fill="#1e1e1e" textLength="43.90" lengthAdjust="spacingAndGlyphs">Center</text>
<line x1="228.00" y1="475.90" x2="338.10" y2="475.90" stroke="#222" stroke-width="1.6"/>
<path d="M219.2,475.9 L230.79999999999998,472.09999999999997 L229.2,475.9 L230.79999999999998,479.7 Z" fill="#1a1a1a"/>
<line x1="350.20" y1="475.90" x2="461.00" y2="475.90" stroke="#222" stroke-width="1.6"/>
<path d="M469.2,475.9 L457.59999999999997,472.09999999999997 L459.2,475.9 L457.59999999999997,479.7 Z" fill="#1a1a1a"/>
<line x1="191.50" y1="522.30" x2="496.80" y2="522.30" stroke="#1a1a1a" stroke-width="2.2"/>
<rect x="233.10" y="502.40" width="11.30" height="40.10" fill="#D6C677" rx="5.65"/>
<text transform="translate(242.85,537.9) rotate(-90)" font-size="11.4" fill="#2a2a2a" textLength="30.4" lengthAdjust="spacingAndGlyphs">CTCF</text>
<rect x="247.60" y="502.40" width="11.30" height="40.10" fill="#D6C677" rx="5.65"/>
<text transform="translate(257.35,537.9) rotate(-90)" font-size="11.4" fill="#2a2a2a" textLength="30.4" lengthAdjust="spacingAndGlyphs">CTCF</text>
<rect x="261.90" y="502.40" width="11.30" height="40.10" fill="#D6C677" rx="5.65"/>
<text transform="translate(271.65,537.9) rotate(-90)" font-size="11.4" fill="#2a2a2a" textLength="30.4" lengthAdjust="spacingAndGlyphs">CTCF</text>
<rect x="276.30" y="502.40" width="11.30" height="40.10" fill="#D6C677" rx="5.65"/>
<text transform="translate(286.05,537.9) rotate(-90)" font-size="11.4" fill="#2a2a2a" textLength="30.4" lengthAdjust="spacingAndGlyphs">CTCF</text>
<rect x="439.90" y="502.60" width="11.50" height="39.60" fill="#D6C677" rx="5.7"/>
<text transform="translate(449.75,537.9) rotate(-90)" font-size="11.4" fill="#2a2a2a" textLength="30.4" lengthAdjust="spacingAndGlyphs">CTCF</text>
<rect x="306.90" y="502.00" width="38.60" height="40.10" fill="#74C7EC" rx="8"/>
<text x="308.60" y="526.00" font-size="13.8" fill="#1a1a1a" textLength="33.80" lengthAdjust="spacingAndGlyphs">Gene</text>
<polyline points="344.5,521 344.5,497.3 332,497.3" fill="none" stroke="#707070" stroke-width="1"/>
<path d="M329.0,497.3 L333.6,495.2 L333.6,499.4 Z" fill="#222"/>
<text x="334.10" y="492.70" font-size="11.4" fill="#333" textLength="21.90" lengthAdjust="spacingAndGlyphs">TSS</text>
<text x="169.40" y="538.80" font-size="13.8" fill="#1e1e1e" textLength="45.80" lengthAdjust="spacingAndGlyphs">-100Kb</text>
<text x="471.40" y="538.80" font-size="13.8" fill="#1e1e1e" textLength="49.50" lengthAdjust="spacingAndGlyphs">+100Kb</text>
<rect x="133.40" y="556.00" width="420.00" height="45.60" fill="#F1F1F1" rx="11.5"/>
<rect x="133.40" y="621.60" width="420.00" height="45.70" fill="#F1F1F1" rx="11.5"/>
<text x="272.40" y="571.17" font-size="13.8" fill="#222" textLength="142.00" lengthAdjust="spacingAndGlyphs" font-weight="bold">ΔCTCFpeaks@Bdry=</text>
<text x="144.80" y="592.44" font-size="12.6" fill="#333" textLength="398.70" lengthAdjust="spacingAndGlyphs" font-style="italic">#CTCF peaks towards TAD Center - #CTCF peaks towards TAD Bdry</text>
<text x="272.40" y="636.97" font-size="13.8" fill="#222" textLength="142.70" lengthAdjust="spacingAndGlyphs" font-weight="bold">ΔCTCFsignal@Bdry=</text>
<text x="136.80" y="657.94" font-size="12.6" fill="#333" textLength="414.40" lengthAdjust="spacingAndGlyphs" font-style="italic">∑CTCF signals towards TAD Center - ∑CTCF signals towards TAD Bdry</text>
<text x="2.80" y="705.20" font-size="14.2" fill="#111" textLength="9.80" lengthAdjust="spacingAndGlyphs" font-weight="bold">D</text>
<text x="59.60" y="709.09" font-size="13.3" fill="#222" textLength="199.20" lengthAdjust="spacingAndGlyphs">Distribution of CTCF peaks around</text>
<text x="36.70" y="724.89" font-size="13.3" fill="#222" textLength="237.50" lengthAdjust="spacingAndGlyphs">boundary proximal genes (Bin1) in mESC</text>
<text transform="translate(12.00,857.50) rotate(-90)" x="0" y="0" font-size="13.4" fill="#111" textLength="71.20" lengthAdjust="spacingAndGlyphs">Percentage</text>
<line x1="38.60" y1="732.40" x2="38.60" y2="892.00" stroke="#111" stroke-width="1.6"/>
<line x1="34.90" y1="774.90" x2="38.50" y2="774.90" stroke="#333" stroke-width="1.2"/>
<text x="20.90" y="779.26" font-size="11.0" fill="#4D4D4D" textLength="12.60" lengthAdjust="spacingAndGlyphs">20</text>
<line x1="34.90" y1="833.10" x2="38.50" y2="833.10" stroke="#333" stroke-width="1.2"/>
<text x="21.10" y="837.46" font-size="11.0" fill="#4D4D4D" textLength="12.40" lengthAdjust="spacingAndGlyphs">10</text>
<line x1="34.90" y1="891.30" x2="38.50" y2="891.30" stroke="#333" stroke-width="1.2"/>
<text x="27.50" y="895.66" font-size="11.0" fill="#4D4D4D" textLength="6.00" lengthAdjust="spacingAndGlyphs">0</text>
<rect x="39.70" y="751.62" width="5.80" height="139.68" fill="#EE5D5D"/>
<rect x="46.00" y="808.07" width="5.90" height="83.23" fill="#A5DE5A"/>
<rect x="52.50" y="796.43" width="6.00" height="94.87" fill="#000"/>
<rect x="66.88" y="843.28" width="5.80" height="48.01" fill="#EE5D5D"/>
<rect x="73.18" y="851.43" width="5.90" height="39.87" fill="#A5DE5A"/>
<rect x="79.68" y="849.40" width="6.00" height="41.90" fill="#000"/>
<rect x="94.06" y="817.97" width="5.80" height="73.33" fill="#EE5D5D"/>
<rect x="100.36" y="825.53" width="5.90" height="65.77" fill="#A5DE5A"/>
<rect x="106.86" y="827.86" width="6.00" height="63.44" fill="#000"/>
<rect x="121.24" y="804.87" width="5.80" height="86.43" fill="#EE5D5D"/>
<rect x="127.54" y="819.13" width="5.90" height="72.17" fill="#A5DE5A"/>
<rect x="134.04" y="812.73" width="6.00" height="78.57" fill="#000"/>
<rect x="148.42" y="836.01" width="5.80" height="55.29" fill="#EE5D5D"/>
<rect x="154.72" y="811.57" width="5.90" height="79.73" fill="#A5DE5A"/>
<rect x="161.22" y="802.84" width="6.00" height="88.46" fill="#000"/>
<rect x="175.60" y="819.71" width="5.80" height="71.59" fill="#EE5D5D"/>
<rect x="181.90" y="815.64" width="5.90" height="75.66" fill="#A5DE5A"/>
<rect x="188.40" y="817.39" width="6.00" height="73.91" fill="#000"/>
<rect x="202.78" y="850.56" width="5.80" height="40.74" fill="#EE5D5D"/>
<rect x="209.08" y="842.99" width="5.90" height="48.31" fill="#A5DE5A"/>
<rect x="215.58" y="842.99" width="6.00" height="48.31" fill="#000"/>
<rect x="229.96" y="869.18" width="5.80" height="22.12" fill="#EE5D5D"/>
<rect x="236.26" y="849.40" width="5.90" height="41.90" fill="#A5DE5A"/>
<rect x="242.76" y="856.38" width="6.00" height="34.92" fill="#000"/>
<rect x="257.14" y="845.32" width="5.80" height="45.98" fill="#EE5D5D"/>
<rect x="263.44" y="813.89" width="5.90" height="77.41" fill="#A5DE5A"/>
<rect x="269.94" y="832.52" width="6.00" height="58.78" fill="#000"/>
<rect x="38.60" y="899.20" width="18.70" height="18.70" fill="none" stroke="#111" stroke-width="1.9"/>
<text x="39.15" y="912.68" font-size="10.5" fill="#222" textLength="17.40" lengthAdjust="spacingAndGlyphs">≤−4</text>
<rect x="65.80" y="899.20" width="18.70" height="18.70" fill="none" stroke="#111" stroke-width="1.9"/>
<text x="67.55" y="912.68" font-size="10.5" fill="#222" textLength="14.80" lengthAdjust="spacingAndGlyphs">−3</text>
<rect x="93.00" y="899.20" width="18.70" height="18.70" fill="none" stroke="#111" stroke-width="1.9"/>
<text x="94.75" y="912.68" font-size="10.5" fill="#222" textLength="14.80" lengthAdjust="spacingAndGlyphs">−2</text>
<rect x="120.20" y="899.20" width="18.70" height="18.70" fill="none" stroke="#111" stroke-width="1.9"/>
<text x="121.95" y="912.68" font-size="10.5" fill="#222" textLength="14.80" lengthAdjust="spacingAndGlyphs">−1</text>
<rect x="147.40" y="899.20" width="18.70" height="18.70" fill="none" stroke="#111" stroke-width="1.9"/>
<text x="153.75" y="912.68" font-size="10.5" fill="#222" textLength="6.00" lengthAdjust="spacingAndGlyphs">0</text>
<rect x="174.60" y="899.20" width="18.70" height="18.70" fill="none" stroke="#111" stroke-width="1.9"/>
<text x="180.95" y="912.68" font-size="10.5" fill="#222" textLength="6.00" lengthAdjust="spacingAndGlyphs">1</text>
<rect x="201.80" y="899.20" width="18.70" height="18.70" fill="none" stroke="#111" stroke-width="1.9"/>
<text x="208.15" y="912.68" font-size="10.5" fill="#222" textLength="6.00" lengthAdjust="spacingAndGlyphs">2</text>
<rect x="229.00" y="899.20" width="18.70" height="18.70" fill="none" stroke="#111" stroke-width="1.9"/>
<text x="235.35" y="912.68" font-size="10.5" fill="#222" textLength="6.00" lengthAdjust="spacingAndGlyphs">3</text>
<rect x="256.20" y="899.20" width="18.70" height="18.70" fill="none" stroke="#111" stroke-width="1.9"/>
<text x="256.75" y="912.68" font-size="10.5" fill="#222" textLength="17.40" lengthAdjust="spacingAndGlyphs">≥4</text>
<rect x="66.20" y="740.60" width="11.20" height="13.00" fill="#EE5D5D" stroke="#333" stroke-width="1.2"/>
<rect x="66.20" y="759.10" width="11.20" height="13.00" fill="#A5DE5A" stroke="#333" stroke-width="1.2"/>
<rect x="66.20" y="777.20" width="11.20" height="13.00" fill="#000" stroke="#333" stroke-width="1.2"/>
<text x="82.60" y="750.84" font-size="12.6" fill="#555" textLength="173.60" lengthAdjust="spacingAndGlyphs">Developmental genes (n=318)</text>
<text x="82.60" y="769.94" font-size="12.6" fill="#555" textLength="176.60" lengthAdjust="spacingAndGlyphs">Housekeeping genes (n=1217)</text>
<text x="82.60" y="788.94" font-size="12.6" fill="#555" textLength="107.90" lengthAdjust="spacingAndGlyphs">All genes (n=6247)</text>
<line x1="51.00" y1="928.80" x2="153.90" y2="928.80" stroke="#222" stroke-width="1.6"/>
<path d="M42.6,928.8 L54.2,925.0 L52.6,928.8 L54.2,932.5999999999999 Z" fill="#1a1a1a"/>
<line x1="160.40" y1="928.80" x2="263.00" y2="928.80" stroke="#222" stroke-width="1.6"/>
<path d="M271.2,928.8 L259.59999999999997,925.0 L261.2,928.8 L259.59999999999997,932.5999999999999 Z" fill="#1a1a1a"/>
<text x="62.50" y="943.29" font-size="12.2" fill="#333" textLength="72.80" lengthAdjust="spacingAndGlyphs">&gt;CTCF peaks</text>
<text x="52.90" y="957.49" font-size="12.2" fill="#333" textLength="92.80" lengthAdjust="spacingAndGlyphs">towards TAD bdry</text>
<text x="177.20" y="943.29" font-size="12.2" fill="#333" textLength="72.80" lengthAdjust="spacingAndGlyphs">&gt;CTCF peaks</text>
<text x="162.80" y="957.49" font-size="12.2" fill="#333" textLength="102.50" lengthAdjust="spacingAndGlyphs">towards TAD center</text>
<text x="88.10" y="979.60" font-size="15.0" fill="#222" textLength="138.80" lengthAdjust="spacingAndGlyphs">ΔCTCFpeaks@Bdry</text>
<text x="323.90" y="705.30" font-size="14.2" fill="#111" textLength="9.40" lengthAdjust="spacingAndGlyphs" font-weight="bold">E</text>
<text x="367.50" y="708.58" font-size="13.0" fill="#111" textLength="127.00" lengthAdjust="spacingAndGlyphs">CTCF peaks in mESC</text>
<text x="555.50" y="709.08" font-size="13.0" fill="#111" textLength="126.70" lengthAdjust="spacingAndGlyphs">CTCF signal in mESC</text>
<line x1="369.20" y1="716.50" x2="369.20" y2="871.50" stroke="#111" stroke-width="1.4"/>
<line x1="368.50" y1="870.80" x2="489.90" y2="870.80" stroke="#111" stroke-width="1.4"/>
<line x1="365.50" y1="723.30" x2="369.20" y2="723.30" stroke="#333" stroke-width="1.0"/>
<text x="344.50" y="727.52" font-size="10.6" fill="#333" textLength="20.40" lengthAdjust="spacingAndGlyphs">1.00</text>
<line x1="365.50" y1="758.50" x2="369.20" y2="758.50" stroke="#333" stroke-width="1.0"/>
<text x="344.50" y="762.72" font-size="10.6" fill="#333" textLength="20.40" lengthAdjust="spacingAndGlyphs">0.75</text>
<line x1="365.50" y1="793.70" x2="369.20" y2="793.70" stroke="#333" stroke-width="1.0"/>
<text x="344.50" y="797.92" font-size="10.6" fill="#333" textLength="20.40" lengthAdjust="spacingAndGlyphs">0.50</text>
<line x1="365.50" y1="828.90" x2="369.20" y2="828.90" stroke="#333" stroke-width="1.0"/>
<text x="344.50" y="833.12" font-size="10.6" fill="#333" textLength="20.40" lengthAdjust="spacingAndGlyphs">0.25</text>
<line x1="365.50" y1="864.10" x2="369.20" y2="864.10" stroke="#333" stroke-width="1.0"/>
<text x="344.50" y="868.32" font-size="10.6" fill="#333" textLength="20.40" lengthAdjust="spacingAndGlyphs">0.00</text>
<line x1="380.60" y1="870.80" x2="380.60" y2="873.60" stroke="#333" stroke-width="1.0"/>
<line x1="409.60" y1="870.80" x2="409.60" y2="873.60" stroke="#333" stroke-width="1.0"/>
<line x1="438.10" y1="870.80" x2="438.10" y2="873.60" stroke="#333" stroke-width="1.0"/>
<line x1="466.90" y1="870.80" x2="466.90" y2="873.60" stroke="#333" stroke-width="1.0"/>
<text x="371.40" y="882.90" font-size="10.9" fill="#2a2a2a" textLength="16.20" lengthAdjust="spacingAndGlyphs">−10</text>
<text x="402.70" y="882.90" font-size="10.9" fill="#2a2a2a" textLength="12.00" lengthAdjust="spacingAndGlyphs">−5</text>
<text x="435.60" y="882.90" font-size="10.9" fill="#2a2a2a" textLength="5.80" lengthAdjust="spacingAndGlyphs">0</text>
<text x="464.20" y="882.90" font-size="10.9" fill="#2a2a2a" textLength="5.80" lengthAdjust="spacingAndGlyphs">5</text>
<text x="369.90" y="902.10" font-size="13.6" fill="#111" textLength="118.20" lengthAdjust="spacingAndGlyphs">ΔCTCFpeaks@Bdry</text>
<text transform="translate(337.20,854.00) rotate(-90)" x="0" y="0" font-size="12.6" fill="#111" textLength="124.80" lengthAdjust="spacingAndGlyphs">Cumulative frequency</text>
<line x1="559.70" y1="716.50" x2="559.70" y2="871.50" stroke="#111" stroke-width="1.4"/>
<line x1="559.00" y1="870.80" x2="679.70" y2="870.80" stroke="#111" stroke-width="1.4"/>
<line x1="556.00" y1="723.30" x2="559.70" y2="723.30" stroke="#333" stroke-width="1.0"/>
<text x="534.70" y="727.52" font-size="10.6" fill="#333" textLength="19.90" lengthAdjust="spacingAndGlyphs">1.00</text>
<line x1="556.00" y1="758.50" x2="559.70" y2="758.50" stroke="#333" stroke-width="1.0"/>
<text x="534.70" y="762.72" font-size="10.6" fill="#333" textLength="19.90" lengthAdjust="spacingAndGlyphs">0.75</text>
<line x1="556.00" y1="793.70" x2="559.70" y2="793.70" stroke="#333" stroke-width="1.0"/>
<text x="534.70" y="797.92" font-size="10.6" fill="#333" textLength="19.90" lengthAdjust="spacingAndGlyphs">0.50</text>
<line x1="556.00" y1="828.90" x2="559.70" y2="828.90" stroke="#333" stroke-width="1.0"/>
<text x="534.70" y="833.12" font-size="10.6" fill="#333" textLength="19.90" lengthAdjust="spacingAndGlyphs">0.25</text>
<line x1="556.00" y1="864.10" x2="559.70" y2="864.10" stroke="#333" stroke-width="1.0"/>
<text x="534.70" y="868.32" font-size="10.6" fill="#333" textLength="19.90" lengthAdjust="spacingAndGlyphs">0.00</text>
<line x1="564.80" y1="870.80" x2="564.80" y2="873.60" stroke="#333" stroke-width="1.0"/>
<line x1="586.60" y1="870.80" x2="586.60" y2="873.60" stroke="#333" stroke-width="1.0"/>
<line x1="608.80" y1="870.80" x2="608.80" y2="873.60" stroke="#333" stroke-width="1.0"/>
<line x1="631.00" y1="870.80" x2="631.00" y2="873.60" stroke="#333" stroke-width="1.0"/>
<line x1="652.80" y1="870.80" x2="652.80" y2="873.60" stroke="#333" stroke-width="1.0"/>
<line x1="674.40" y1="870.80" x2="674.40" y2="873.60" stroke="#333" stroke-width="1.0"/>
<text x="545.30" y="882.90" font-size="10.9" fill="#2a2a2a" textLength="25.40" lengthAdjust="spacingAndGlyphs">−1500</text>
<text x="572.80" y="882.90" font-size="10.9" fill="#2a2a2a" textLength="25.40" lengthAdjust="spacingAndGlyphs">−1000</text>
<text x="600.30" y="882.90" font-size="10.9" fill="#2a2a2a" textLength="20.10" lengthAdjust="spacingAndGlyphs">−500</text>
<text x="628.70" y="882.90" font-size="10.9" fill="#2a2a2a" textLength="4.60" lengthAdjust="spacingAndGlyphs">0</text>
<text x="645.20" y="882.90" font-size="10.9" fill="#2a2a2a" textLength="14.40" lengthAdjust="spacingAndGlyphs">500</text>
<text x="664.90" y="882.90" font-size="10.9" fill="#2a2a2a" textLength="16.50" lengthAdjust="spacingAndGlyphs">1000</text>
<text x="561.20" y="902.10" font-size="13.6" fill="#111" textLength="117.10" lengthAdjust="spacingAndGlyphs">ΔCTCFsignal@Bdry</text>
<text transform="translate(530.10,854.00) rotate(-90)" x="0" y="0" font-size="12.6" fill="#111" textLength="125.50" lengthAdjust="spacingAndGlyphs">Cumulative frequency</text>
<polyline points="370.0,863.3 381.1,862.3 392.3,860.8 398.5,859.6 403.5,855.9 409.7,850.3 415.9,842.2 421.5,832.9 427.0,819.9 432.0,806.1 436.1,790.5 439.2,778.3 442.9,767.1 446.6,757.8 450.9,749.7 455.9,742.3 461.5,734.9 467.1,728.0 475.8,725.5 484.5,724.3 490.5,723.4" fill="none" stroke="#8CD24A" stroke-width="1.7" stroke-linejoin="round"/>
<polyline points="370.0,863.0 381.1,861.7 392.3,860.1 397.9,858.0 403.5,854.5 409.7,848.9 415.9,840.9 421.5,831.0 426.4,818.5 430.8,806.1 434.2,792.0 437.3,778.3 441.0,767.1 444.7,756.0 448.5,747.3 452.8,740.4 458.4,734.9 464.6,729.9 468.3,727.7 475.8,725.5 484.5,723.9 490.5,723.4" fill="none" stroke="#000" stroke-width="1.7" stroke-linejoin="round"/>
<polyline points="370.0,862.2 376.2,859.5 381.1,857.6 386.7,857.4 392.3,854.8 398.5,847.7 404.7,844.0 410.3,840.3 414.6,832.2 420.8,818.5 425.8,804.9 430.1,790.0 433.0,778.3 436.7,769.6 440.4,758.4 444.1,748.5 447.2,743.5 450.9,738.0 456.5,733.6 462.1,729.9 465.2,728.4 468.3,727.4 475.8,725.5 484.5,723.7 490.5,723.1" fill="none" stroke="#F0595C" stroke-width="1.5" stroke-linejoin="round"/>
<polyline points="560.0,862.3 569.9,861.6 579.8,859.8 587.3,858.3 594.7,855.2 600.9,851.5 607.1,845.9 612.1,839.7 617.0,831.1 620.8,822.4 624.5,812.4 628.2,801.2 630.7,790.0 633.5,777.0 637.2,767.1 641.6,757.2 645.9,749.1 650.9,741.1 655.8,736.1 662.0,731.8 669.5,728.0 679.4,724.9" fill="none" stroke="#8CD24A" stroke-width="1.7" stroke-linejoin="round"/>
<polyline points="560.0,861.7 569.9,861.0 579.8,859.2 587.3,857.6 594.7,854.5 600.9,850.8 607.1,845.2 612.1,839.0 617.0,829.7 620.8,821.0 624.5,811.1 627.6,801.2 629.4,790.0 631.6,777.0 634.1,767.1 637.2,758.4 641.0,751.0 644.7,744.8 649.6,738.6 654.6,733.6 660.8,729.9 667.0,727.4 673.2,725.5 679.4,723.9" fill="none" stroke="#000" stroke-width="1.7" stroke-linejoin="round"/>
<polyline points="560.0,859.5 569.9,858.9 574.9,856.4 577.3,854.5 581.1,853.9 584.8,852.0 588.5,851.4 592.2,849.6 594.7,847.1 597.8,843.4 602.2,840.9 604.6,837.8 608.4,832.2 612.1,827.2 614.6,819.8 615.8,811.7 618.3,807.4 620.8,802.4 623.9,796.2 626.3,790.0 627.9,784.5 630.4,777.0 632.3,768.4 634.7,760.9 637.8,749.7 641.0,743.5 643.4,741.0 646.5,738.6 649.6,734.9 654.6,732.4 659.6,728.6 665.8,726.8 670.7,725.5 675.7,723.7 679.4,723.1" fill="none" stroke="#F0595C" stroke-width="1.5" stroke-linejoin="round"/>
<text x="450.70" y="784.65" font-size="8.2" fill="#3a3a3a" textLength="37.30" lengthAdjust="spacingAndGlyphs" font-style="italic">Dev vs Hk</text>
<text x="452.30" y="795.25" font-size="8.2" fill="#3a3a3a" textLength="33.20" lengthAdjust="spacingAndGlyphs" font-style="italic">p=4.8e-7</text>
<text x="451.00" y="819.35" font-size="8.2" fill="#3a3a3a" textLength="36.30" lengthAdjust="spacingAndGlyphs" font-style="italic">Dev vs All</text>
<text x="452.30" y="829.85" font-size="8.2" fill="#3a3a3a" textLength="33.10" lengthAdjust="spacingAndGlyphs" font-style="italic">p=4.7e-5</text>
<text x="641.70" y="784.65" font-size="8.2" fill="#3a3a3a" textLength="37.00" lengthAdjust="spacingAndGlyphs" font-style="italic">Dev vs Hk</text>
<text x="644.60" y="795.55" font-size="8.2" fill="#3a3a3a" textLength="32.80" lengthAdjust="spacingAndGlyphs" font-style="italic">p=7.4e-7</text>
<text x="642.30" y="818.85" font-size="8.2" fill="#3a3a3a" textLength="36.40" lengthAdjust="spacingAndGlyphs" font-style="italic">Dev vs All</text>
<text x="644.20" y="828.75" font-size="8.2" fill="#3a3a3a" textLength="32.30" lengthAdjust="spacingAndGlyphs" font-style="italic">p=1.1e-4</text>
<rect x="439.20" y="926.30" width="12.10" height="12.90" fill="#EE5D5D" stroke="#333" stroke-width="1.4"/>
<rect x="439.20" y="945.40" width="12.10" height="13.00" fill="#A5DE5A" stroke="#333" stroke-width="1.4"/>
<rect x="439.20" y="964.60" width="12.10" height="13.00" fill="#000" stroke="#333" stroke-width="1.4"/>
<text x="455.80" y="937.00" font-size="13.4" fill="#222" textLength="189.50" lengthAdjust="spacingAndGlyphs">Developmental genes (n=318)</text>
<text x="455.80" y="956.80" font-size="13.4" fill="#222" textLength="193.30" lengthAdjust="spacingAndGlyphs">Housekeeping genes (n=1217)</text>
<text x="455.80" y="976.70" font-size="13.4" fill="#222" textLength="118.90" lengthAdjust="spacingAndGlyphs">All genes (n=6247)</text>
</svg>
</body></html>
